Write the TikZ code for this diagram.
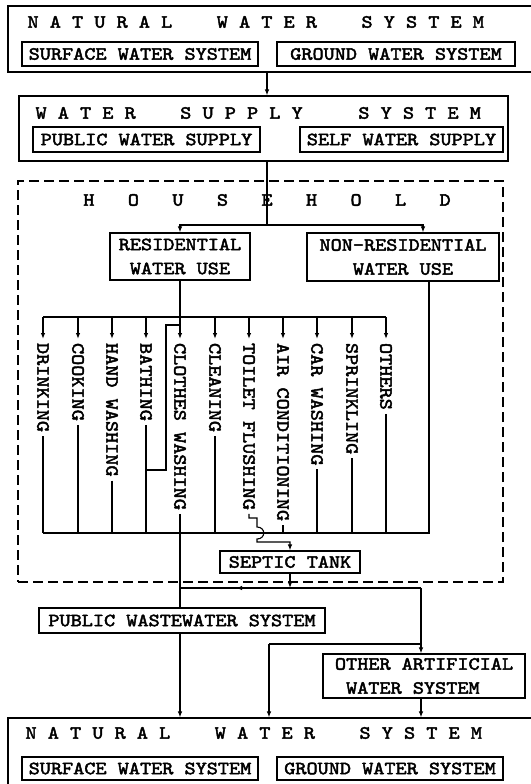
\documentclass[tikz,border=0pt]{standalone}
\usepackage{fontspec}
\newfontfamily\tw{lmmono10-regular.otf}[FakeStretch=1.14,FakeBold=2.5]
\usetikzlibrary{arrows.meta}
\begin{document}
\begin{tikzpicture}[x=1pt,y=-1pt,line width=1.1pt,
  txt/.style={font={\tw\fontsize{18.6}{24}\selectfont}},
  frame/.style={draw,line width=1.1pt,inner sep=0pt},
  box/.style={draw,line width=1.1pt,inner sep=0pt,txt,align=center},
  ttl/.style={txt,inner sep=0pt,anchor=west},
  vlab/.style={txt,rotate=-90,anchor=west,inner sep=0pt,outer sep=4pt},
  arr/.style={-{Latex[length=6pt,width=4.5pt]}},
  hh/.style={draw,line width=1.1pt,dash pattern=on 10pt off 5pt,inner sep=0pt}]
\useasboundingbox[fill=white] (0,0) rectangle (530,784);

% top natural water system
\node[frame,minimum width=537pt,minimum height=66pt] (nwt) at (276.5,39) {};
\node[ttl] (nwtT) at (27,22) {N A T U R A L~~~~W A T E R~~~~S Y S T E M};
\node[box,minimum width=236pt,minimum height=24pt] (swt) at (140,54) {SURFACE WATER SYSTEM};
\node[box,minimum width=238pt,minimum height=24pt] (gwt) at (396,54) {GROUND WATER SYSTEM};

% water supply system
\node[frame,minimum width=489pt,minimum height=65pt] (wss) at (263.5,128.5) {};
\node[ttl] (wssT) at (35,113) {W A T E R~~~~S U P P L Y~~~~~S Y S T E M};
\node[box,minimum width=227pt,minimum height=25pt] (pws) at (146.5,139.5) {PUBLIC WATER SUPPLY};
\node[box,minimum width=203pt,minimum height=25pt] (sws) at (401.5,139.5) {SELF WATER SUPPLY};

\coordinate (c1) at (267,0);
\draw[arr] (c1 |- nwt.south) -- (c1 |- wss.north);

% household
\node[hh,minimum width=485pt,minimum height=401pt] (hhb) at (260.5,381.5) {};
\node[txt,inner sep=0pt] (hhT) at (267,200) {H~~~O~~~U~~~S~~~E~~~H~~~O~~~L~~~D};
\coordinate (br) at (267,225);
\node[box,minimum width=140pt,minimum height=47pt] (res) at (180,256.5) {RESIDENTIAL\\WATER USE};
\node[box,minimum width=192pt,minimum height=48pt] (nres) at (403,257) {NON-RESIDENTIAL\\WATER USE};
\draw (c1 |- wss.south) -- (br);
\draw[arr] (br) -| (res.north);
\draw[arr] (br) -| ([xshift=20pt]nres.north);

% uses
\node[vlab] (l1) at (43,339) {DRINKING};
\node[vlab] (l2) at (78,339) {COOKING};
\node[vlab] (l3) at (112,339) {HAND WASHING};
\node[vlab] (l4) at (146,339) {BATHING};
\node[vlab] (l5) at (180,339) {CLOTHES WASHING};
\node[vlab] (l6) at (215,339) {CLEANING};
\node[vlab] (l7) at (249,339) {TOILET FLUSHING};
\node[vlab] (l8) at (283,339) {AIR CONDITIONING};
\node[vlab] (l9) at (317,339) {CAR WASHING};
\node[vlab] (l10) at (352,339) {SPRINKLING};
\node[vlab] (l11) at (386,339) {OTHERS};

\coordinate (barT) at (0,317);
\coordinate (barB) at (0,533);
\draw (res.south) -- (res.south |- barT);
\draw (l1.west |- barT) -- (l11.west |- barT);
\foreach \k in {1,...,11} {\draw[arr] (l\k.west |- barT) -- (l\k.west);}

\coordinate (nrx) at (429,0);
\draw (nrx |- nres.south) -- (nrx |- barB) -- (l1.east |- barB);
\foreach \k in {1,2,3,4,6,8,9,10,11} {\draw (l\k.east) -- (l\k.east |- barB);}

% bathing reuse for clothes washing
\coordinate (bA) at (166,470);
\coordinate (bB) at (166,325);
\draw (l4 |- bA) -- (bA) -- (bB) -- (l5 |- bB);

% septic tank
\node[box,minimum width=140pt,minimum height=22pt] (sep) at (290,562) {SEPTIC TANK};
\coordinate (t1) at (257,518);
\coordinate (t2) at (257,527);
\coordinate (t3) at (257,539);
\coordinate (t4) at (257,542);
\draw[arr] (l7.east) |- (t1) -- (t2) .. controls (266,527) and (266,539) .. (t3) -- (t4) -| (sep.north);

% wastewater
\node[box,minimum width=286pt,minimum height=25pt] (pww) at (182,620.5) {PUBLIC WASTEWATER SYSTEM};
\node[box,minimum width=202pt,minimum height=44pt,align=left] (oaws) at (424,676) {OTHER ARTIFICIAL\\\phantom{O}WATER SYSTEM};
\draw (l5.east) -- (l5.east |- pww.north);

\coordinate (h1) at (0,588);
\coordinate (vx) at (421,0);
\coordinate (am) at (236,588);
\coordinate (j2) at (269,644);
\draw[arr] (sep.south) -- (sep.south |- h1);
\draw (l5 |- h1) -- (vx |- h1);
\draw[arr] (sep.south |- h1) -- (am);
\draw[arr] (vx |- h1) -- (vx |- oaws.north);
\draw (vx |- j2) -- (j2);

% bottom natural water system
\node[frame,minimum width=537pt,minimum height=82pt] (nwb) at (276.5,759) {};
\node[ttl] (nwbT) at (25,733) {N A T U R A L~~~~W A T E R~~~~S Y S T E M};
\node[box,minimum width=236pt,minimum height=23pt] (swb) at (140,768.5) {SURFACE WATER SYSTEM};
\node[box,minimum width=226pt,minimum height=23pt] (gwb) at (390,768.5) {GROUND WATER SYSTEM};

\draw[arr] (j2) -- (j2 |- nwb.north);
\draw[arr] (l5 |- pww.south) -- (l5 |- nwb.north);
\draw[arr] (vx |- oaws.south) -- (vx |- nwb.north);
\end{tikzpicture}
\end{document}
